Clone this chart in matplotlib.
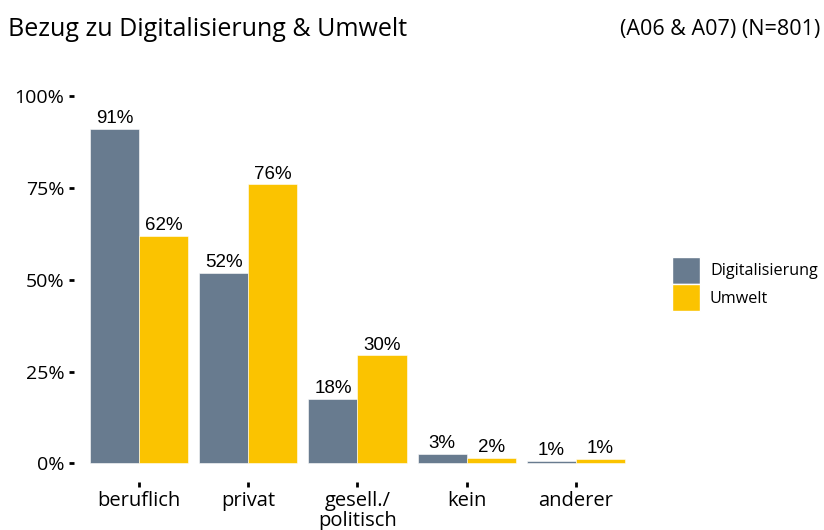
import numpy as np
import matplotlib
matplotlib.use("Agg")
import matplotlib.pyplot as plt
from matplotlib.patches import Patch

categories = ["beruflich", "privat", "gesell./\npolitisch", "kein", "anderer"]
series = ["Digitalisierung", "Umwelt"]
digital = [91.0, 51.8, 17.5, 2.5, 0.7]
umwelt = [61.9, 76.0, 29.4, 1.4, 1.2]
digital_labels = ["91%", "52%", "18%", "3%", "1%"]
umwelt_labels = ["62%", "76%", "30%", "2%", "1%"]

colors = ["#687B8F", "#FBC300"]
font = "Open Sans"

fig = plt.figure(figsize=(8.24, 5.30), dpi=100)
ax = fig.add_axes([0.0893, 0.091, 0.689, 0.762])

x = np.arange(len(categories))
w = 0.45
for vals, labs, col, off in [(digital, digital_labels, colors[0], -w / 2),
                             (umwelt, umwelt_labels, colors[1], w / 2)]:
    bars = ax.bar(x + off, vals, width=w, color=col, edgecolor="white", linewidth=0.4)
    for b, lab in zip(bars, labs):
        ax.text(b.get_x() + b.get_width() / 2, b.get_height() + 0.5, lab,
                ha="center", va="bottom", fontsize=13.5, family="Liberation Sans")

ax.set_xlim(-0.6, len(categories) - 0.4)
ax.set_ylim(-5, 105)
ax.set_yticks([0, 25, 50, 75, 100])
ax.set_yticklabels(["0%", "25%", "50%", "75%", "100%"], family=font, fontsize=14)
ax.set_xticks(x)
ax.set_xticklabels(categories, family=font, fontsize=14.5, linespacing=1.0)
ax.tick_params(axis="both", length=3.5, width=2, color="black", pad=3)
for s in ax.spines.values():
    s.set_visible(False)

handles = [Patch(facecolor=c, edgecolor="white", label=s) for s, c in zip(series, colors)]
fig.legend(handles=handles, loc="center left", bbox_to_anchor=(0.802, 0.464),
           frameon=False, prop={"family": font, "size": 11.6},
           handlelength=1.75, handleheight=2.2, handletextpad=0.6, labelspacing=0.05,
           borderpad=0.2)

fig.text(0.01, 0.945, "Bezug zu Digitalisierung & Umwelt", family=font, fontsize=18, va="center")
fig.text(0.995, 0.945, "(A06 & A07) (N=801)", family=font, fontsize=15.5, va="center", ha="right")

fig.savefig("out.png", dpi=100)
